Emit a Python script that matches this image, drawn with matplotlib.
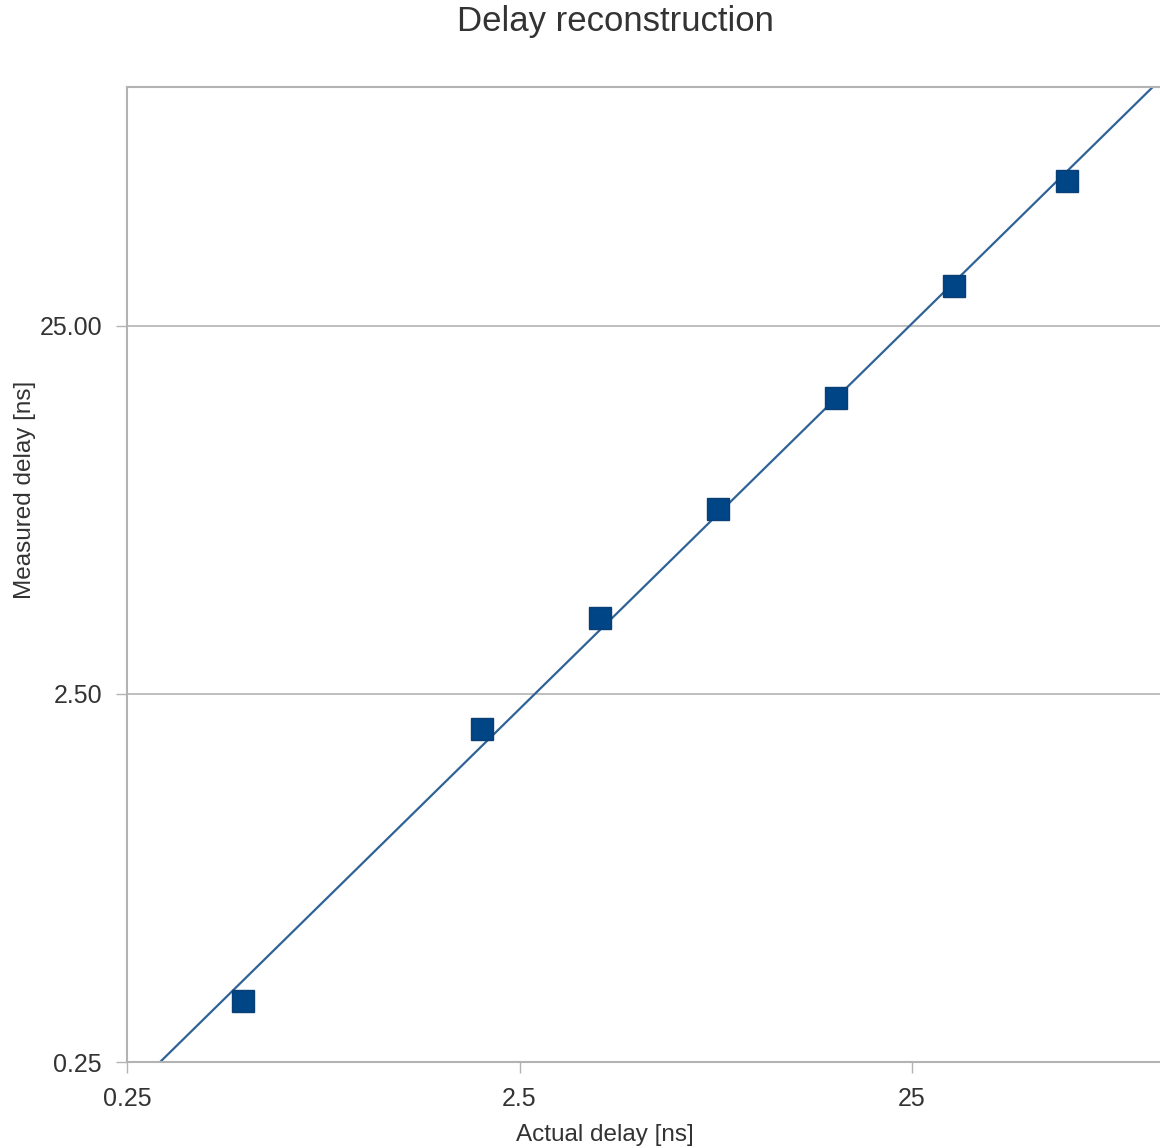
import numpy as np
import matplotlib
matplotlib.use("Agg")
import matplotlib.pyplot as plt
from matplotlib.ticker import FixedLocator, FixedFormatter, NullLocator

# data
actual = [0.495, 2, 4, 8, 16, 32, 62]
measured = [0.366, 2.01, 4.02, 7.96, 15.9, 32.1, 61.9]
xticks = [0.25, 2.5, 25]
xticklabels = ['0.25', '2.5', '25']
yticks = [0.25, 2.5, 25]
yticklabels = ['0.25', '2.50', '25.00']

plt.rcParams['font.family'] = ['Liberation Sans', 'DejaVu Sans']
txt = '#333333'
gridc = '#b3b3b3'

fig = plt.figure(figsize=(11.6, 11.48), dpi=100)
ax = fig.add_axes([127/1160, 1 - 1062/1148, 1 - 127/1160, (1062 - 87)/1148])
ax.set_xscale('log')
ax.set_yscale('log')
ax.set_xlim(0.25, 107)
ax.set_ylim(0.25, 111.5)

# power trend line (fit in log space)
k, b = np.polyfit(np.log10(actual), np.log10(measured), 1)
xl = np.array([0.25, 107])
ax.plot(xl, 10**b * xl**k, color='#2f6296', lw=1.6, zorder=2)

ax.plot(actual, measured, ls='none', marker='s', ms=15.5,
        color='#004586', mec='#0a3f75', zorder=3)

ax.xaxis.set_major_locator(FixedLocator(xticks))
ax.xaxis.set_major_formatter(FixedFormatter(xticklabels))
ax.yaxis.set_major_locator(FixedLocator(yticks))
ax.yaxis.set_major_formatter(FixedFormatter(yticklabels))
ax.xaxis.set_minor_locator(NullLocator())
ax.yaxis.set_minor_locator(NullLocator())
ax.tick_params(axis='both', which='major', length=8, width=1, color=gridc,
               labelsize=18, labelcolor=txt, pad=10)
ax.yaxis.grid(True, color=gridc, lw=1.2)
ax.set_axisbelow(True)
for side in ['left', 'bottom', 'top']:
    ax.spines[side].set_color(gridc)
    ax.spines[side].set_linewidth(1.5)
ax.spines['right'].set_visible(False)

ax.set_xlabel('Actual delay [ns]', fontsize=17.5, color=txt)
ax.xaxis.set_label_coords((605 - 127)/1033, (1062 - 1124)/975)
ax.set_ylabel('Measured delay [ns]', fontsize=17.5, color=txt)
ax.yaxis.set_label_coords((36 - 127)/1033, (1062 - 490)/975)

fig.text(615/1160, 1 - 22/1148, 'Delay reconstruction', fontsize=25,
         color=txt, ha='center', va='center')

fig.savefig('out.png', dpi=100)
